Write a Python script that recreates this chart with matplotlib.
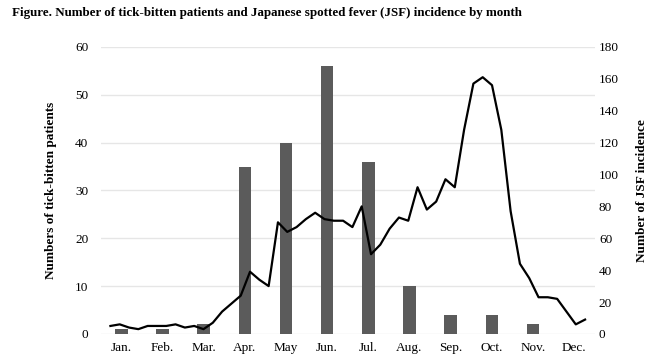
import numpy as np
import matplotlib
matplotlib.use("Agg")
from matplotlib import pyplot as plt

plt.rcParams['font.family'] = ['Liberation Serif', 'DejaVu Serif']

#Monthly data (bars, left axis)
months = ["Jan.", "Feb.", "Mar.", "Apr.", "May", "Jun.", "Jul.", "Aug.", "Sep.", "Oct.", "Nov.", "Dec."]
tickBitten = [1, 1, 2, 35, 40, 56, 36, 10, 4, 4, 2, 0]

#Weekly data (line, right axis)
jsfWeekly = [5, 6, 4, 3, 5, 5, 5, 6, 4, 5, 3, 7,
             14, 19, 24, 39, 34, 30, 70, 64, 67, 72, 76, 72,
             71, 71, 67, 80, 50, 56, 66, 73, 71, 92, 78, 83,
             97, 92, 128, 157, 161, 156, 128, 77, 44, 35, 23, 23,
             22, 14, 6, 9]

fig = plt.figure(figsize=(6.5, 3.61), dpi=100)
ax = fig.add_axes([0.155, 0.075, 0.76, 0.795])

xm = np.arange(len(months))
ax.bar(xm, tickBitten, width=0.3, color='#5b5b5b', zorder=2)
ax.set_xlim(-0.5, 11.5)
ax.set_ylim(0, 60)
ax.set_yticks(range(0, 61, 10))
ax.set_xticks(xm)
ax.set_xticklabels(months)
ax.yaxis.grid(True, color='#e6e6e6', linewidth=1, zorder=0)
ax.set_axisbelow(True)
for s in ax.spines.values():
    s.set_visible(False)
ax.tick_params(axis='both', length=0, labelsize=9.5)
ax.tick_params(axis='y', pad=9)
ax.tick_params(axis='x', pad=6)
ax.set_ylabel('Numbers of tick-bitten patients', fontsize=9.5, fontweight='bold', labelpad=13)

ax2 = ax.twinx()
xw = np.linspace(-0.265, 11.265, len(jsfWeekly))
ax2.plot(xw, jsfWeekly, color='black', linewidth=1.6, zorder=3)
ax2.set_ylim(0, 180)
ax2.set_yticks(range(0, 181, 20))
for s in ax2.spines.values():
    s.set_visible(False)
ax2.tick_params(axis='y', length=0, labelsize=9.5, pad=3)
ax2.set_ylabel('Number of JSF incidence', fontsize=9.5, fontweight='bold', labelpad=12)

fig.text(0.018, 0.965, 'Figure. Number of tick-bitten patients and Japanese spotted fever (JSF) incidence by month',
         fontsize=9.4, fontweight='bold', ha='left', va='center')

fig.savefig('out.png', dpi=100)
